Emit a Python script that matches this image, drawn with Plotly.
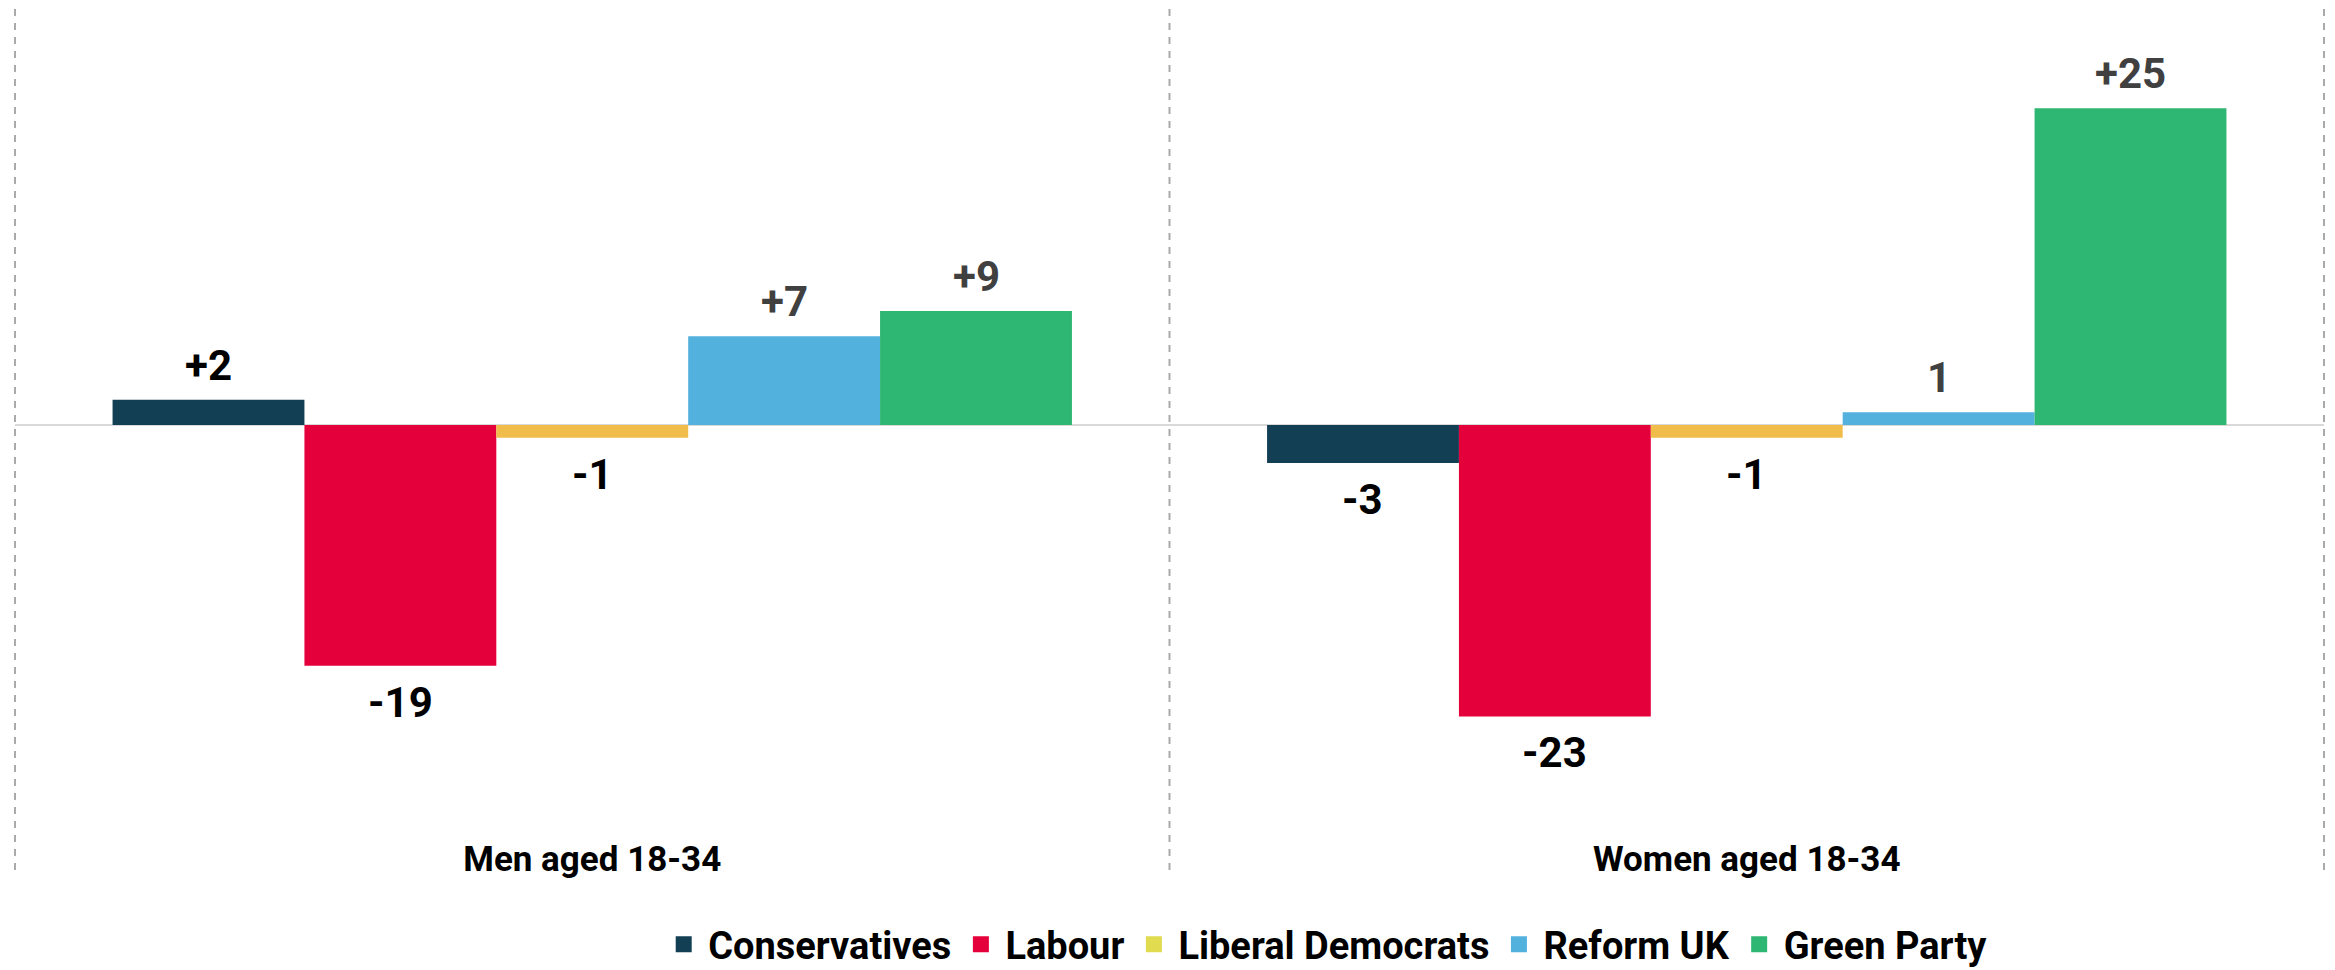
import plotly.graph_objects as go

# ---- data ----
groups = ["Men aged 18-34", "Women aged 18-34"]
parties = ["Conservatives", "Labour", "Liberal Democrats", "Reform UK", "Green Party"]
conservatives = [2, -3]
labour = [-19, -23]
lib_dems = [-1, -1]
reform = [7, 1]
green = [9, 25]
label_conservatives = ["+2", "-3"]
label_labour = ["-19", "-23"]
label_lib_dems = ["-1", "-1"]
label_reform = ["+7", "1"]
label_green = ["+9", "+25"]

series = [conservatives, labour, lib_dems, reform, green]
labels = [label_conservatives, label_labour, label_lib_dems, label_reform, label_green]

# ---- styles ----
bar_colors = ["#133f55", "#e4003b", "#f1bd4a", "#53b1de", "#2eb673"]
legend_colors = ["#133f55", "#e4003b", "#e1db50", "#53b1de", "#2eb673"]
label_colors = ["#000000", "#000000", "#000000", "#404040", "#404040"]
FONT = "Roboto"
W, H = 2335, 970
ML, MR, MT, MB = 15, 11, 8, 135
BARGAP = 0.169

fig = go.Figure()
for k, (name, vals) in enumerate(zip(parties, series)):
    fig.add_trace(go.Bar(
        x=groups, y=vals, name=name,
        marker=dict(color=bar_colors[k], line=dict(width=0)),
        showlegend=False, hoverinfo="skip",
    ))
# legend-only entries (legend swatches use a slightly different palette)
for k, name in enumerate(parties):
    fig.add_trace(go.Scatter(
        x=[None], y=[None], name=name, mode="markers",
        marker=dict(color=legend_colors[k], symbol="square", size=16, line=dict(width=0)),
        showlegend=True,
    ))

# data labels positioned via the axis scales
n = len(parties)
w = (1 - BARGAP) / n
for k in range(n):
    for i, g in enumerate(groups):
        v = series[k][i]
        fig.add_annotation(
            x=i + (k - (n - 1) / 2) * w, y=v, xref="x", yref="y",
            text=labels[k][i], showarrow=False,
            yanchor="bottom" if v >= 0 else "top",
            yshift=8 if v >= 0 else -10,
            font=dict(family=FONT, size=42, color=label_colors[k], weight=700),
        )

# dashed category separators
plot_h = H - MT - MB
for xp in [0, 0.5, 1]:
    fig.add_shape(type="line", xref="paper", yref="paper",
                  x0=xp, x1=xp, y0=-(870 - (H - MB)) / plot_h, y1=1,
                  line=dict(color="#aaaaaa", width=2, dash="7px,7px"), layer="above")

px_per_unit = 12.67
zero_px = 425
y_top = (zero_px - MT) / px_per_unit
y_bot = -((H - MB) - zero_px) / px_per_unit

fig.update_layout(
    width=W, height=H,
    margin=dict(l=ML, r=MR, t=MT, b=MB, autoexpand=False),
    paper_bgcolor="white", plot_bgcolor="white",
    barmode="group", bargap=BARGAP, bargroupgap=0,
    font=dict(family=FONT, color="#000000"),
    xaxis=dict(type="category", range=[-0.5, 1.5], showgrid=False, showline=False,
               ticks="", tickfont=dict(family=FONT, size=35, color="#000000", weight=700),
               fixedrange=True),
    yaxis=dict(range=[y_bot, y_top], showgrid=False, showticklabels=False,
               zeroline=True, zerolinecolor="#d9d9d9", zerolinewidth=2,
               showline=False, fixedrange=True),
    legend=dict(orientation="h", x=0.279, xanchor="left", y=-0.0943, yanchor="top",
                itemwidth=39,
                font=dict(family=FONT, size=38, color="#000000", weight=700),
                bgcolor="rgba(0,0,0,0)", traceorder="normal", itemclick=False),
    showlegend=True,
)

fig.write_html("out.html",
               config={"displayModeBar": False},
               post_script="document.body.style.margin='0';document.body.style.overflow='hidden';")
